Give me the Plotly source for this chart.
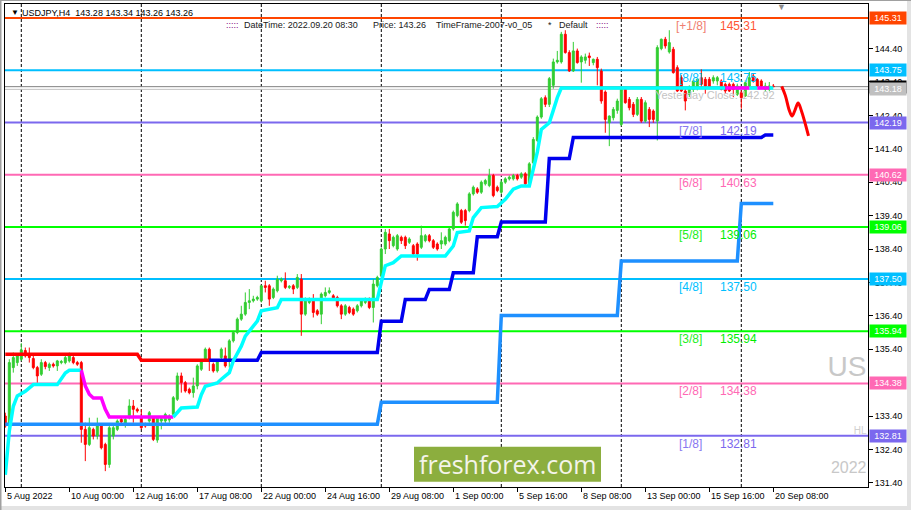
import plotly.graph_objects as go

# ---------------- data (H4 bars, index 0 = Mon 8 Aug 2022 00:00) ----------------
bar_start = -4
open_ = [
    133.40, 133.10, 134.85, 135.00, 135.10, 135.36, 135.25, 135.12, 134.85, 134.65,   # -4..5
    135.00, 134.85, 134.95, 134.90, 135.00, 135.00, 135.05, 135.15, 135.00, 135.00,   # 6..15
    133.00, 132.55, 133.00, 132.80, 133.10, 132.55, 131.95, 132.80, 133.00, 133.30,   # 16..25
    133.18, 133.35, 133.70, 133.60, 133.38, 133.15, 133.25, 133.35, 132.68, 133.25,   # 26..35
    133.25, 133.28, 133.45, 133.90, 134.60, 134.40, 134.20, 134.10, 134.30, 134.80,   # 36..45
    135.10, 135.40, 134.95, 134.75, 135.15, 135.20, 135.10, 135.65, 135.90, 136.30,   # 46..55
    136.45, 136.80, 136.85, 136.90, 136.85, 137.30, 137.30, 136.95, 137.15, 137.45,   # 56..65
    137.45, 137.25, 137.30, 137.25, 137.50, 136.45, 136.80, 136.90, 136.55, 136.45,   # 66..75
    137.00, 137.10, 137.00, 136.95, 136.70, 136.45, 136.65, 136.60, 136.55, 136.70,   # 76..85
    136.80, 136.90, 136.65, 137.30, 137.60, 138.40, 138.85, 138.50, 138.40, 138.75,   # 86..95
    138.75, 138.60, 138.50, 138.55, 138.45, 138.65, 138.80, 138.65, 138.55, 138.55,   # 96..105
    138.55, 138.65, 139.00, 139.40, 139.55, 139.55, 139.55, 140.05, 140.20, 140.10,   # 106..115
    140.35, 140.30, 140.60, 140.25, 140.10, 140.40, 140.50, 140.50, 140.60, 140.55,   # 116..125
    140.65, 140.35, 140.98, 141.65, 142.35, 142.93, 142.73, 143.30, 144.00, 144.00,   # 126..135
    144.83, 144.28, 143.73, 144.33, 144.00, 144.05, 144.18, 143.98, 144.08, 143.73,   # 136..145
    143.10, 142.18, 142.33, 142.55, 142.13, 143.18, 142.88, 142.73, 142.43, 142.88,   # 146..155
    142.23, 142.58, 142.53, 142.23, 144.40, 144.68, 144.30, 144.38, 143.83, 143.53,   # 156..165
    143.13, 143.03, 143.18, 143.23, 143.53, 143.48, 143.48, 143.43, 143.43, 143.43,   # 166..175
    143.33, 143.33, 143.33, 143.03, 143.08, 142.98, 143.28, 143.58, 143.48, 143.43,   # 176..185
    143.18, 143.18, 143.28,                                                           # 186..188
]
high_ = [
    133.50, 135.10, 135.30, 135.25, 135.58, 135.45, 135.45, 135.22, 134.90, 135.10,
    135.05, 135.00, 135.00, 135.08, 135.08, 135.20, 135.30, 135.20, 135.05, 135.05,
    133.20, 133.35, 133.05, 133.35, 133.15, 132.60, 133.10, 133.10, 133.30, 133.35,
    133.35, 133.90, 133.88, 133.65, 133.60, 133.20, 133.55, 133.40, 133.40, 133.35,
    133.50, 133.45, 134.00, 134.70, 134.70, 134.45, 134.25, 134.55, 134.95, 135.10,
    135.45, 135.45, 135.00, 135.10, 135.45, 135.45, 135.70, 135.95, 136.35, 136.70,
    137.10, 137.20, 137.00, 137.00, 137.30, 137.45, 137.35, 137.25, 137.60, 137.55,
    137.70, 137.32, 137.35, 137.65, 137.65, 136.95, 136.95, 137.05, 136.60, 137.10,
    137.25, 137.25, 137.05, 137.00, 136.75, 136.75, 136.70, 136.65, 136.75, 136.90,
    136.95, 136.95, 137.50, 137.60, 138.45, 139.00, 139.00, 138.80, 138.85, 138.80,
    138.80, 138.75, 138.55, 138.60, 139.10, 138.85, 138.85, 138.70, 138.60, 138.90,
    138.80, 139.05, 139.55, 139.80, 139.60, 139.60, 140.10, 140.30, 140.25, 140.45,
    140.50, 140.80, 140.65, 140.30, 140.45, 140.55, 140.60, 140.65, 140.65, 140.70,
    140.70, 141.00, 141.75, 142.40, 142.95, 143.00, 143.55, 144.10, 144.33, 144.90,
    144.95, 144.35, 144.60, 144.40, 144.20, 144.25, 144.28, 144.10, 144.15, 143.80,
    143.15, 142.40, 142.65, 142.90, 143.25, 143.25, 142.95, 142.80, 142.95, 142.95,
    142.85, 142.65, 142.58, 144.50, 144.70, 144.75, 144.95, 144.45, 143.90, 143.60,
    143.20, 143.30, 143.45, 143.50, 143.78, 143.55, 143.55, 143.60, 143.58, 143.48,
    143.38, 143.38, 143.38, 143.35, 143.15, 143.45, 143.70, 143.65, 143.52, 143.48,
    143.38, 143.40, 143.34,
]
low_ = [
    133.05, 132.95, 134.70, 134.90, 135.05, 135.15, 135.00, 134.80, 134.40, 134.60,
    134.80, 134.75, 134.85, 134.75, 134.95, 134.95, 135.00, 134.95, 134.90, 132.60,
    132.05, 132.50, 132.70, 132.70, 132.40, 131.75, 131.85, 132.70, 132.95, 133.15,
    133.05, 133.30, 133.20, 133.50, 133.00, 133.05, 133.20, 132.65, 132.60, 133.00,
    133.15, 133.20, 133.40, 133.85, 134.10, 134.10, 134.05, 133.95, 134.20, 134.75,
    135.05, 134.75, 134.70, 134.70, 135.10, 134.85, 134.85, 135.60, 135.85, 136.25,
    136.40, 136.60, 136.80, 136.85, 136.80, 137.10, 136.70, 136.90, 137.10, 137.40,
    137.20, 137.20, 137.05, 137.20, 135.80, 136.40, 136.75, 136.35, 136.40, 136.15,
    136.95, 137.05, 136.85, 136.65, 136.30, 136.40, 136.45, 136.40, 136.50, 136.65,
    136.75, 136.60, 136.20, 137.25, 137.55, 138.25, 138.40, 138.45, 138.35, 138.55,
    138.40, 138.55, 138.20, 138.05, 138.40, 138.60, 138.60, 138.40, 138.35, 138.40,
    138.50, 138.60, 138.95, 139.35, 139.15, 139.10, 139.50, 140.00, 140.05, 140.05,
    140.30, 140.25, 139.95, 140.10, 140.05, 140.35, 140.45, 140.45, 140.45, 140.50,
    140.30, 140.30, 140.95, 141.60, 142.30, 142.65, 142.65, 143.20, 143.95, 143.95,
    144.25, 143.70, 143.70, 143.95, 143.38, 143.95, 143.88, 143.90, 143.30, 142.75,
    141.88, 141.48, 142.25, 142.45, 142.08, 142.75, 142.55, 142.35, 142.38, 142.18,
    142.18, 142.05, 142.18, 141.65, 144.35, 144.40, 144.25, 143.65, 143.10, 143.10,
    142.55, 142.95, 143.10, 143.15, 143.25, 143.05, 143.20, 143.35, 143.30, 143.15,
    143.05, 143.10, 142.95, 142.98, 142.60, 142.95, 143.25, 143.38, 143.25, 143.25,
    143.10, 143.12, 143.26,
]
close_ = [
    133.10, 135.00, 135.15, 135.20, 135.38, 135.20, 135.15, 134.85, 134.60, 135.00,
    134.88, 134.95, 134.90, 135.05, 135.03, 135.15, 135.20, 135.00, 134.95, 133.00,
    132.55, 133.05, 132.80, 133.10, 132.45, 131.95, 133.05, 133.05, 133.25, 133.22,
    133.30, 133.70, 133.60, 133.55, 133.05, 133.10, 133.50, 132.70, 133.35, 133.32,
    133.45, 133.40, 133.95, 134.60, 134.40, 134.15, 134.10, 134.30, 134.90, 135.05,
    135.40, 135.10, 134.75, 135.05, 135.40, 134.90, 135.65, 135.90, 136.30, 136.45,
    136.80, 136.85, 136.90, 136.95, 137.30, 137.25, 136.90, 137.20, 137.50, 137.50,
    137.25, 137.28, 137.20, 137.55, 136.45, 136.90, 136.90, 136.50, 136.45, 137.05,
    137.10, 137.15, 136.90, 136.70, 136.45, 136.70, 136.50, 136.45, 136.70, 136.85,
    136.90, 136.65, 137.35, 137.55, 138.40, 138.90, 138.65, 138.75, 138.80, 138.65,
    138.50, 138.70, 138.25, 138.25, 138.80, 138.80, 138.65, 138.45, 138.40, 138.65,
    138.75, 139.00, 139.50, 139.75, 139.20, 139.25, 140.05, 140.25, 140.10, 140.40,
    140.45, 140.60, 140.00, 140.15, 140.40, 140.50, 140.55, 140.60, 140.50, 140.65,
    140.35, 140.95, 141.68, 142.35, 142.90, 142.73, 143.50, 144.00, 144.05, 144.83,
    144.28, 143.73, 144.33, 143.98, 144.15, 144.15, 144.13, 144.08, 143.83, 142.83,
    142.28, 142.38, 142.58, 142.83, 143.18, 142.78, 142.63, 142.43, 142.88, 142.23,
    142.78, 142.28, 142.28, 144.43, 144.68, 144.48, 144.58, 143.68, 143.13, 143.13,
    142.83, 143.23, 143.43, 143.48, 143.33, 143.28, 143.23, 143.53, 143.53, 143.18,
    143.13, 143.13, 143.18, 143.28, 142.93, 143.38, 143.53, 143.43, 143.28, 143.28,
    143.28, 143.28, 143.26,
]
bars = list(range(bar_start, bar_start + len(open_)))

# Murrey levels
level_names = ["[+1/8]", "[8/8]", "[7/8]", "[6/8]", "[5/8]", "[4/8]", "[3/8]", "[2/8]", "[1/8]"]
level_values = [145.3125, 143.75, 142.1875, 140.625, 139.0625, 137.5, 135.9375, 134.375, 132.8125]
level_text = ["145.31", "143.75", "142.19", "140.63", "139.06", "137.50", "135.94", "134.38", "132.81"]
level_axis_text = ["145.31", "143.75", "142.19", "140.62", "139.06", "137.50", "135.94", "134.38", "132.81"]
level_colors = ["#FF4500", "#00BFFF", "#7B68EE", "#FF69B4", "#00FF00", "#00BFFF", "#00FF00", "#FF69B4", "#7B68EE"]
level_label_colors = ["#F08070", "#00BFFF", "#8878F0", "#FF69B4", "#22EE22", "#00BFFF", "#22EE22", "#FF69B4", "#8878F0"]
level_value_colors = ["#FF5533", "#00BFFF", "#7B68EE", "#FF69B4", "#00EE00", "#00BFFF", "#00EE00", "#FF69B4", "#7B68EE"]

bid_price = 143.26
other_price = 143.18

# trailing-stop style lines (vertices: bar index, price)
red_trail_x = [-4, 29, 30, 47]
red_trail_y = [135.25, 135.25, 135.07, 135.07]
blue_trail_x = [47, 59, 60, 89, 90, 95, 96, 101, 102, 107, 108, 113, 114, 119, 120, 131, 132, 137, 138, 185, 186, 188]
blue_trail_y = [135.07, 135.07, 135.30, 135.30, 136.24, 136.24, 136.89, 136.89, 137.19, 137.19, 137.69, 137.69,
                138.77, 138.77, 139.21, 139.21, 141.11, 141.11, 141.74, 141.74, 141.81, 141.81]
dblue_trail_x = [-4, 89, 90, 119, 120, 149, 150, 179, 180, 188]
dblue_trail_y = [133.15, 133.15, 133.81, 133.81, 136.41, 136.41, 138.04, 138.04, 139.76, 139.76]

cyan1_x = [-4, -3, -2, -1, 1, 3, 9, 11, 12, 15]
cyan1_y = [131.64, 132.95, 133.69, 134.00, 134.14, 134.34, 134.34, 134.69, 134.77, 134.77]
mag1_x = [15, 16, 17, 18, 20, 21, 22, 38]
mag1_y = [134.77, 134.30, 134.05, 133.94, 133.94, 133.60, 133.37, 133.37]
cyan2_x = [38, 39, 40, 44, 45, 46, 49, 50, 52, 53, 55, 56, 59, 60, 64, 65, 89, 90, 91, 93, 95, 106, 108, 109,
           112, 113, 115, 119, 121, 123, 125, 127, 128, 129, 130, 131, 132, 133, 134, 135, 176]
cyan2_y = [133.37, 133.50, 133.64, 133.67, 134.04, 134.29, 134.39, 134.50, 134.70, 135.05, 135.49, 135.79,
           136.24, 136.55, 136.64, 136.89, 136.89, 137.40, 137.90, 137.99, 138.19, 138.19, 138.49, 138.89,
           138.94, 139.34, 139.64, 139.67, 139.89, 140.19, 140.29, 140.29, 140.79, 141.30, 141.98, 142.08,
           142.18, 142.55, 142.93, 143.22, 143.22]
mag2_segments = [(176, 182), (184, 187)]
cyan3_segments = [(182, 184), (187, 188)]
end_line_level = 143.22

forecast_x = [190.1, 191.0, 192.0, 192.7, 193.4, 194.2, 195.0, 196.8]
forecast_y = [143.27, 143.00, 142.55, 142.38, 142.55, 142.77, 142.55, 141.79]

week_separators = [0, 30, 60, 90, 120, 150, 180]
xlabel_pos = [-4, 12, 28, 44, 60, 76, 92, 108, 124, 140, 156, 172, 188]
xlabel_text = ["5 Aug 2022", "10 Aug 00:00", "12 Aug 16:00", "17 Aug 08:00", "22 Aug 00:00", "24 Aug 16:00",
               "29 Aug 08:00", "1 Sep 00:00", "5 Sep 16:00", "8 Sep 08:00", "13 Sep 00:00", "15 Sep 16:00",
               "20 Sep 08:00"]
ytick_vals = [131.4, 132.4, 133.4, 135.4, 136.4, 137.4, 138.4, 139.4, 140.4, 141.4, 142.4, 143.4, 144.4]
ytick_text = ["%.2f" % v for v in ytick_vals]

# ---------------- layout geometry ----------------
W, H = 911, 510
ML, MR, MT, MB = 5, 43, 4, 23
PW, PH = W - ML - MR, H - MT - MB
def pxx(px):
    return (px - ML) / PW
def pxy(py):
    return (H - MB - py) / PH

FONT = "Liberation Sans, Arial, sans-serif"

fig = go.Figure()

fig.add_trace(go.Candlestick(
    x=bars, open=open_, high=high_, low=low_, close=close_,
    increasing=dict(line=dict(color="#32CD32", width=1), fillcolor="#32CD32"),
    decreasing=dict(line=dict(color="#FF0000", width=1), fillcolor="#FF0000"),
    whiskerwidth=0, showlegend=False, hoverinfo="skip"))

def line(x, y, color, width):
    fig.add_trace(go.Scatter(x=x, y=y, mode="lines", line=dict(color=color, width=width),
                             showlegend=False, hoverinfo="skip"))

line(dblue_trail_x, dblue_trail_y, "#1E90FF", 3.5)
line(red_trail_x, red_trail_y, "#FF0000", 3.5)
line(blue_trail_x, blue_trail_y, "#0000EE", 3.5)
line(cyan1_x, cyan1_y, "#00FFFF", 3.5)
line(mag1_x, mag1_y, "#FF00FF", 3.5)
line(cyan2_x, cyan2_y, "#00FFFF", 3.5)
for a, b in cyan3_segments:
    line([a, b], [end_line_level, end_line_level], "#00FFFF", 3.5)
for a, b in mag2_segments:
    line([a, b], [end_line_level, end_line_level], "#FF00FF", 3.5)

fig.add_trace(go.Scatter(x=forecast_x, y=forecast_y, mode="lines",
                         line=dict(color="#FF0000", width=3, shape="spline", smoothing=1.0),
                         showlegend=False, hoverinfo="skip"))

# texts drawn in plot
fig.add_trace(go.Scatter(x=[173.4], y=[142.98], mode="text", text=["Yesterday Close: 142.92"],
                         textfont=dict(family=FONT, size=11, color="#C4C4C4"),
                         textposition="middle center", showlegend=False, hoverinfo="skip"))
fig.add_trace(go.Scatter(x=[211.3, 211.3, 211.3], y=[134.80, 132.94, 131.80], mode="text",
                         text=["US", "HL", "2022"],
                         textfont=dict(family=FONT, size=[28, 10, 16], color=["#C8C8C8", "#D0D0D0", "#C8C8C8"]),
                         textposition="middle left", showlegend=False, hoverinfo="skip"))

shapes = []
for s in week_separators:
    shapes.append(dict(type="line", xref="x", yref="paper", x0=s, x1=s, y0=0, y1=1,
                       line=dict(color="black", width=1, dash="3px,2px"), layer="below"))
for v, c in zip(level_values, level_colors):
    shapes.append(dict(type="line", xref="paper", yref="y", x0=0, x1=1, y0=v, y1=v,
                       line=dict(color=c, width=2), layer="below"))
shapes.append(dict(type="line", xref="paper", yref="y", x0=0, x1=1, y0=bid_price, y1=bid_price,
                   line=dict(color="#808080", width=1), layer="below"))
shapes.append(dict(type="line", xref="paper", yref="y", x0=0, x1=1, y0=other_price, y1=other_price,
                   line=dict(color="#C0C0C0", width=1), layer="below"))
# freshforex logo box
shapes.append(dict(type="rect", xref="paper", yref="paper", x0=pxx(414), x1=pxx(601), y0=pxy(481.7), y1=pxy(446.7),
                   fillcolor="#8CAE3E", line=dict(width=0), layer="above"))
# window frame strips
shapes.append(dict(type="rect", xref="paper", yref="paper", x0=pxx(907), x1=pxx(911), y0=pxy(510), y1=pxy(0),
                   fillcolor="#E3E3E3", line=dict(width=0), layer="above"))
shapes.append(dict(type="rect", xref="paper", yref="paper", x0=pxx(0), x1=pxx(911), y0=pxy(510), y1=pxy(506),
                   fillcolor="#E3E3E3", line=dict(width=0), layer="above"))
shapes.append(dict(type="rect", xref="paper", yref="paper", x0=pxx(0), x1=pxx(1.5), y0=pxy(510), y1=pxy(0),
                   fillcolor="#A0A0A0", line=dict(width=0), layer="above"))
shapes.append(dict(type="rect", xref="paper", yref="paper", x0=pxx(0), x1=pxx(911), y0=pxy(1), y1=pxy(0),
                   fillcolor="#A0A0A0", line=dict(width=0), layer="above"))

ann = []
for name, v, txt, lc, vc in zip(level_names, level_values, level_text, level_label_colors, level_value_colors):
    ann.append(dict(x=167.3, y=v, xref="x", yref="y", text=name, showarrow=False, xanchor="center",
                    yanchor="middle", yshift=-8, font=dict(family=FONT, size=12, color=lc)))
    ann.append(dict(x=174.2, y=v, xref="x", yref="y", text=txt, showarrow=False, xanchor="left",
                    yanchor="middle", yshift=-8, font=dict(family=FONT, size=12, color=vc)))

box_vals = level_values + [bid_price, other_price]
box_text = level_axis_text + ["143.26", "143.18"]
box_cols = level_colors + ["#000000", "#C0C0C0"]
for v, t, c in zip(box_vals, box_text, box_cols):
    ann.append(dict(x=1, y=v, xref="paper", yref="y", text=t, showarrow=False, xanchor="left", yanchor="middle",
                    xshift=1, bgcolor=c, borderpad=1, width=34, height=10,
                    font=dict(family=FONT, size=9, color="white")))

for p, t in zip(xlabel_pos, xlabel_text):
    ann.append(dict(x=p, y=0, xref="x", yref="paper", text=t, showarrow=False, xanchor="left", yanchor="middle",
                    yshift=-8.5, font=dict(family=FONT, size=9, color="black")))

# header texts
ann.append(dict(x=pxx(9), y=pxy(12.5), xref="paper", yref="paper", text="\u25BC", showarrow=False,
                xanchor="left", yanchor="middle", font=dict(family=FONT, size=8, color="black")))
ann.append(dict(x=pxx(20), y=pxy(12.5), xref="paper", yref="paper",
                text="USDJPY,H4\u00a0\u00a0143.28 143.34 143.26 143.26", showarrow=False,
                xanchor="left", yanchor="middle", font=dict(family=FONT, size=9, color="black")))
info = [(224, ":::::", "#800080"), (242, "DateTime: 2022.09.20 08:30", "#202020"),
        (371, "Price: 143.26", "#202020"), (434, "TimeFrame-2007-v0_05", "#202020"),
        (546, "*", "#202020"), (557, "Default", "#202020"), (594, ":::::", "#800080")]
for px, t, c in info:
    ann.append(dict(x=pxx(px), y=pxy(25.5), xref="paper", yref="paper", text=t, showarrow=False,
                    xanchor="left", yanchor="middle", font=dict(family=FONT, size=9, color=c)))
ann.append(dict(x=pxx(781), y=pxy(7), xref="paper", yref="paper", text="\u25BC", showarrow=False,
                xanchor="center", yanchor="middle", font=dict(family=FONT, size=9, color="#8C8C8C")))
ann.append(dict(x=pxx(507.5), y=pxy(464), xref="paper", yref="paper", text="freshforex.com", showarrow=False,
                xanchor="center", yanchor="middle", font=dict(family="Open Sans, sans-serif", size=25, color="#F4F4EA")))

fig.update_layout(
    width=W, height=H, autosize=False,
    margin=dict(l=ML, r=MR, t=MT, b=MB, pad=0),
    paper_bgcolor="white", plot_bgcolor="white",
    showlegend=False, shapes=shapes, annotations=ann,
    hovermode=False,
)
fig.update_xaxes(range=[bar_start - 0.075, bar_start - 0.075 + PW / 4.0], showgrid=False, zeroline=False,
                 showline=True, mirror=True, linecolor="black", linewidth=1,
                 tickvals=xlabel_pos, showticklabels=False, ticks="outside", ticklen=4, tickcolor="black",
                 rangeslider=dict(visible=False), fixedrange=True)
fig.update_yaxes(range=[131.275, 145.735], side="right", showgrid=False, zeroline=False,
                 showline=True, mirror=True, linecolor="black", linewidth=1,
                 tickvals=ytick_vals, ticktext=ytick_text, ticks="outside", ticklen=4, tickcolor="black",
                 tickfont=dict(family=FONT, size=9, color="black"), fixedrange=True)

fig.write_html("out.html", config={"displayModeBar": False, "staticPlot": True},
               post_script="document.body.style.margin='0';document.body.style.overflow='hidden';")
